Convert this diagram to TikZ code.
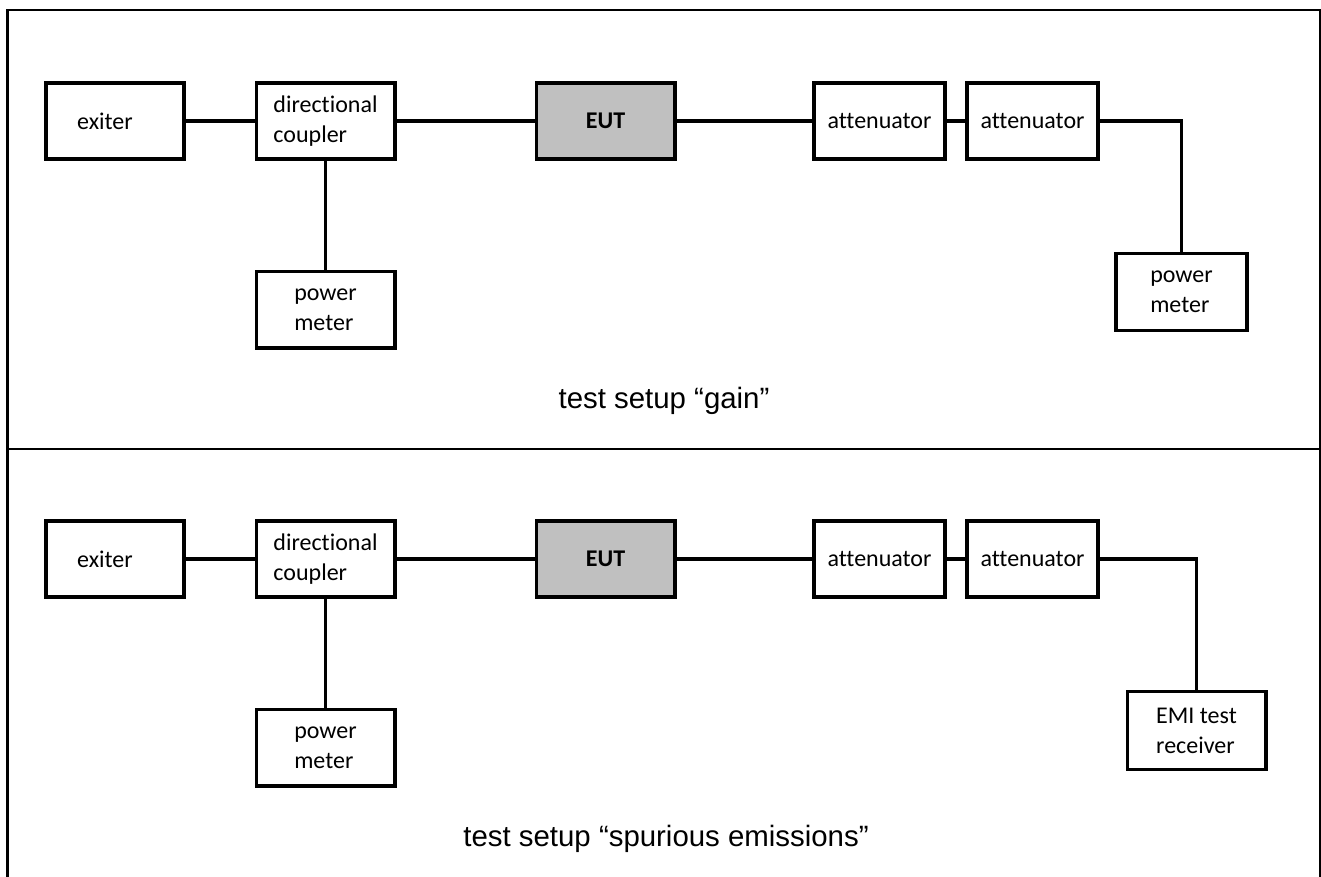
\documentclass[tikz,border=0pt]{standalone}
\usepackage{fontspec}
\setmainfont{Carlito}[Ligatures={NoCommon,NoContextual}]
\newfontfamily\captionfont{Liberation Sans}
\usepackage{tikz}
\usetikzlibrary{positioning}
\definecolor{eutgray}{HTML}{C0C0C0}
\tikzset{
  unit/.style={draw, line width=1.8pt, minimum width=69.2pt, minimum height=38.2pt,
    align=left, inner sep=2pt, font=\fontsize{12}{15}\selectfont},
  attbox/.style={unit, minimum width=65.7pt, minimum height=38pt},
  eutbox/.style={unit, fill=eutgray, font=\fontsize{12}{15}\selectfont\bfseries},
  wire/.style={line width=1.8pt},
  frame/.style={line width=1.1pt},
  setupcaption/.style={font=\captionfont\fontsize{14.7}{17}\selectfont},
}

\begin{document}
\begin{tikzpicture}[x=0.5pt, y=-0.5pt]
    \useasboundingbox (0,0) rectangle (1321,877);

    % Frame
    \coordinate (TL) at (7.5, 10);
    \coordinate (TR) at (1320, 10);
    \coordinate (BL) at (7.5, 877);
    \coordinate (BR) at (1320, 877);
    \coordinate (ML) at (7.5, 449);
    \coordinate (MR) at (1320, 449);
    \draw[frame] (BL) -- (TL) -- (TR) -- (BR);
    \draw[frame] (ML) -- (MR);

    % Test setup gain
    \node[unit] (exiterA) at (115, 121) {exiter\hspace*{10pt}};
    \node[unit] (couplerA) at (325.5, 121) {directional\\coupler};
    \node[unit] (meterA) at (325.5, 309.5) {power\\meter};
    \node[eutbox] (eutA) at (605.5, 121) {EUT};
    \node[attbox] (attA) at (879.5, 121) {attenuator};
    \node[attbox] (attB) at (1032.5, 121) {attenuator};
    \node[attbox, minimum height=38.5pt] (meterB) at (1181.5, 292) {power\\meter};

    \draw[wire] (exiterA) -- (couplerA);
    \draw[wire] (couplerA) -- (meterA);
    \draw[wire] (couplerA) -- (eutA);
    \draw[wire] (eutA) -- (attA);
    \draw[wire] (attA) -- (attB);
    \draw[wire] (attB.east) -| (meterB.north);

    \node[setupcaption] (gain) at (664, 401) {test setup “gain”};

    % Test setup spurious emissions
    \node[unit] (exiterC) at (115, 559) {exiter\hspace*{10pt}};
    \node[unit] (couplerC) at (325.5, 559) {directional\\coupler};
    \node[unit] (meterC) at (325.5, 747.5) {power\\meter};
    \node[eutbox] (eutC) at (605.5, 559) {EUT};
    \node[attbox] (attC) at (879.5, 559) {attenuator};
    \node[attbox] (attD) at (1032.5, 559) {attenuator};
    \node[unit, minimum height=39pt] (receiver) at (1196.5, 730.5) {EMI test\\receiver};

    \draw[wire] (exiterC) -- (couplerC);
    \draw[wire] (couplerC) -- (meterC);
    \draw[wire] (couplerC) -- (eutC);
    \draw[wire] (eutC) -- (attC);
    \draw[wire] (attC) -- (attD);
    \draw[wire] (attD.east) -| (receiver.north);

    \node[setupcaption] (spurious) at (666, 839) {test setup “spurious emissions”};
\end{tikzpicture}
\end{document}
